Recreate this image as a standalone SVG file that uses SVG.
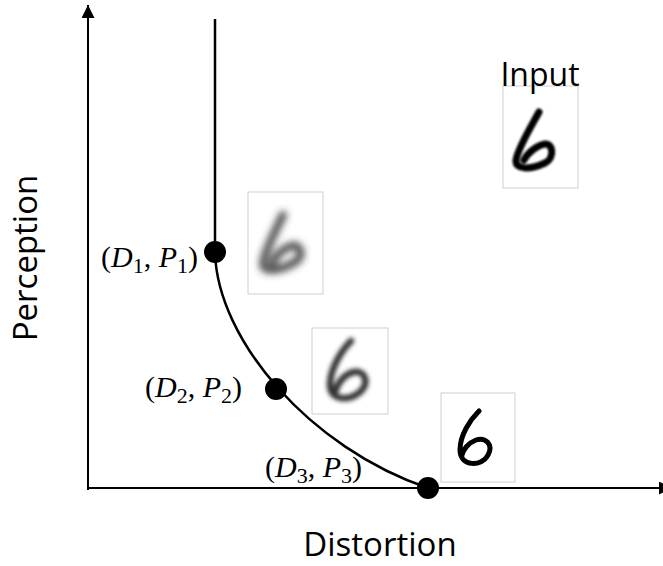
<svg xmlns="http://www.w3.org/2000/svg" width="663" height="566" viewBox="0 0 663 566">
<style>
.ax{stroke:#000;stroke-width:2;fill:none}
.cv{stroke:#000;stroke-width:2.5;fill:none}
.dot{fill:#000}
.box{fill:#fff;stroke:#cfcfcf;stroke-width:1}
.lbl{font-family:"Open Sans","Liberation Sans",sans-serif;font-size:33px;fill:#000}
.math{font-family:"Liberation Serif",serif;font-size:30px;fill:#000}
.it{font-style:italic}
.sub{font-size:22px}
.digit{fill:none;stroke-linecap:round;stroke-linejoin:round}
</style>
<defs>
<marker id="arr" viewBox="0 0 10 10" refX="10" refY="5" markerWidth="6.5" markerHeight="6.5" markerUnits="strokeWidth" orient="auto">
<path d="M0,0 L10,5 L0,10 z" fill="#000"/>
</marker>
<filter id="b0" x="-30%" y="-30%" width="160%" height="160%"><feGaussianBlur stdDeviation="0.9"/></filter>
<filter id="b1" x="-40%" y="-40%" width="180%" height="180%"><feGaussianBlur stdDeviation="3.5"/></filter>
<filter id="b2" x="-40%" y="-40%" width="180%" height="180%"><feGaussianBlur stdDeviation="2"/></filter>
<filter id="b3" x="-30%" y="-30%" width="160%" height="160%"><feGaussianBlur stdDeviation="0.6"/></filter>
</defs>
<g id="connectors">
<line class="ax" x1="88" y1="490" x2="88" y2="5" marker-end="url(#arr)"/>
<line class="ax" x1="87" y1="488" x2="672" y2="488" marker-end="url(#arr)"/>
<line class="cv" x1="215" y1="19" x2="215" y2="252"/>
<path class="cv" d="M215,252 C217,340 310,448 428,488"/>
</g>
<g id="axis-labels">
<text class="lbl" x="380" y="556" text-anchor="middle">Distortion</text>
<text class="lbl" transform="translate(37,258) rotate(-90)" text-anchor="middle">Perception</text>
</g>
<g id="input">
<rect class="box" x="503" y="86" width="75" height="102"/>
<text class="lbl" x="540" y="86" text-anchor="middle" style="font-size:32px">Input</text>
<path class="digit" filter="url(#b0)" stroke="#000" stroke-width="7" d="M539,112 C532,125 518,148 516,160 C515,170 530,170 545,163 C555,158 553,143 545,144 C538,145 528,152 524,160"/>
</g>
<g id="point1">
<circle class="dot" cx="215" cy="252" r="11"/>
<text class="math" x="101" y="267">(<tspan class="it">D</tspan><tspan class="sub" dy="6">1</tspan><tspan dy="-6">, </tspan><tspan class="it">P</tspan><tspan class="sub" dy="6">1</tspan><tspan dy="-6">)</tspan></text>
<rect class="box" x="248" y="192" width="75" height="102"/>
<path class="digit" filter="url(#b1)" stroke="#333" stroke-opacity="0.85" stroke-width="8" d="M283,215 C276,230 264,252 263,264 C263,273 280,271 295,262 C305,256 300,243 291,246 C284,248 276,255 273,262"/>
</g>
<g id="point2">
<circle class="dot" cx="276" cy="389" r="11"/>
<text class="math" x="145" y="397">(<tspan class="it">D</tspan><tspan class="sub" dy="6">2</tspan><tspan dy="-6">, </tspan><tspan class="it">P</tspan><tspan class="sub" dy="6">2</tspan><tspan dy="-6">)</tspan></text>
<rect class="box" x="312" y="328" width="76" height="86"/>
<path class="digit" filter="url(#b2)" stroke="#333" stroke-width="6.5" d="M351,341 C340,352 330,370 330,385 C330,400 348,402 360,392 C370,383 365,370 354,372 C345,374 338,382 336,390"/>
</g>
<g id="point3">
<circle class="dot" cx="428" cy="488" r="11"/>
<text class="math" x="265" y="477">(<tspan class="it">D</tspan><tspan class="sub" dy="6">3</tspan><tspan dy="-6">, </tspan><tspan class="it">P</tspan><tspan class="sub" dy="6">3</tspan><tspan dy="-6">)</tspan></text>
<rect class="box" x="441" y="393" width="74" height="89"/>
<path class="digit" filter="url(#b3)" stroke="#000" stroke-width="5" d="M479,411 C470,420 460,435 460,450 C460,467 482,467 488,455 C494,444 485,437 476,440 C468,443 463,450 462,455"/>
</g>
</svg>
